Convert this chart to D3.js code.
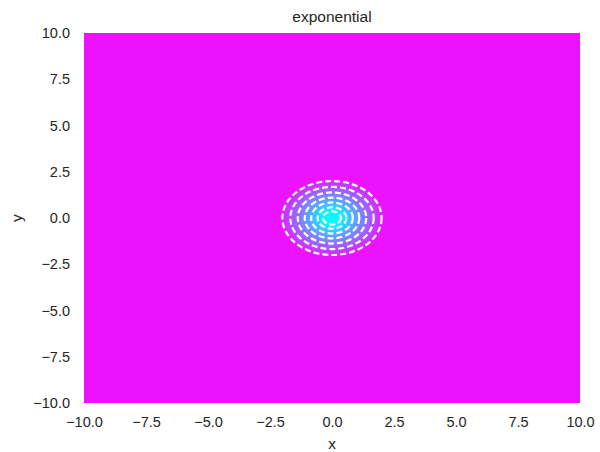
<!DOCTYPE html>
<html>
<head>
<meta charset="utf-8">
<script src="https://cdn.jsdelivr.net/npm/d3@7"></script>
<style>
  html, body { margin: 0; padding: 0; background: #fff; }
  svg { display: block; }
  text { font-family: "Liberation Sans", Arial, sans-serif; fill: #262626; }
</style>
</head>
<body>
<svg id="chart" width="600" height="452"></svg>
<script>
// Axis ticks
const xTicks = [-10, -7.5, -5, -2.5, 0, 2.5, 5, 7.5, 10];
const yTicks = [-10, -7.5, -5, -2.5, 0, 2.5, 5, 7.5, 10];

// Radii of the dashed contour lines around the origin
const contourRadii = [0.36, 0.58, 0.84, 1.1, 1.38, 1.68, 2.0];

// Radial colour profile of the filled field (radius -> position on the "cool" colormap)
const profileRadius = [0, 0.42, 0.8, 1.2, 1.6, 1.95, 2.15];
const profileLevel  = [0.0, 0.04, 0.28, 0.48, 0.66, 0.84, 0.93];
const outerLevel = 0.93;

const W = 600, H = 452;
const plot = { left: 84, right: 580, top: 33, bottom: 403 };

const x = d3.scaleLinear().domain([-10, 10]).range([plot.left, plot.right]);
const y = d3.scaleLinear().domain([-10, 10]).range([plot.bottom, plot.top]);

// matplotlib "cool" colormap: cyan -> magenta
const cool = t => d3.rgb(Math.round(255 * t), Math.round(255 * (1 - t)), 255).toString();

const svg = d3.select("#chart");
const defs = svg.append("defs");

// Filled field: outer level everywhere, radial falloff near the origin
svg.append("rect")
  .attr("x", x(-10)).attr("y", y(10))
  .attr("width", x(10) - x(-10)).attr("height", y(-10) - y(10))
  .attr("fill", cool(outerLevel));

const rMax = profileRadius[profileRadius.length - 1];
const grad = defs.append("radialGradient")
  .attr("id", "field")
  .attr("cx", "50%").attr("cy", "50%").attr("r", "50%");
grad.selectAll("stop")
  .data(profileRadius.map((r, i) => ({ r, t: profileLevel[i] })))
  .join("stop")
  .attr("offset", d => d.r / rMax)
  .attr("stop-color", d => cool(d.t));

svg.append("ellipse")
  .attr("cx", x(0)).attr("cy", y(0))
  .attr("rx", x(rMax) - x(0)).attr("ry", y(0) - y(rMax))
  .attr("fill", "url(#field)");

// Dashed contour lines
svg.append("g")
  .selectAll("ellipse")
  .data(contourRadii)
  .join("ellipse")
  .attr("cx", x(0)).attr("cy", y(0))
  .attr("rx", r => x(r) - x(0))
  .attr("ry", r => y(0) - y(r))
  .attr("fill", "none")
  .attr("stroke", "#ffffff")
  .attr("stroke-width", 2.2)
  .attr("stroke-dasharray", "6,3");

// Axes (no spines or tick marks, labels only)
const fmt = d => d3.format(".1f")(d).replace("-", "\u2212");

const xAxis = svg.append("g")
  .attr("transform", `translate(0,${plot.bottom})`)
  .call(d3.axisBottom(x).tickValues(xTicks).tickFormat(fmt).tickSize(0).tickPadding(14));
const yAxis = svg.append("g")
  .attr("transform", `translate(${plot.left},0)`)
  .call(d3.axisLeft(y).tickValues(yTicks).tickFormat(fmt).tickSize(0).tickPadding(14));

[xAxis, yAxis].forEach(g => {
  g.select(".domain").remove();
  g.selectAll("text")
    .attr("fill", "#262626")
    .style("font-size", "14.5px")
    .style("font-family", "'Liberation Sans', Arial, sans-serif");
});

// Title and axis labels
svg.append("text")
  .attr("x", (plot.left + plot.right) / 2).attr("y", 22)
  .attr("text-anchor", "middle")
  .style("font-size", "15.5px")
  .text("exponential");

svg.append("text")
  .attr("x", (plot.left + plot.right) / 2).attr("y", 449)
  .attr("text-anchor", "middle")
  .style("font-size", "15.5px")
  .text("x");

svg.append("text")
  .attr("transform", `translate(22,${(plot.top + plot.bottom) / 2}) rotate(-90)`)
  .attr("text-anchor", "middle")
  .style("font-size", "15.5px")
  .text("y");
</script>
</body>
</html>
